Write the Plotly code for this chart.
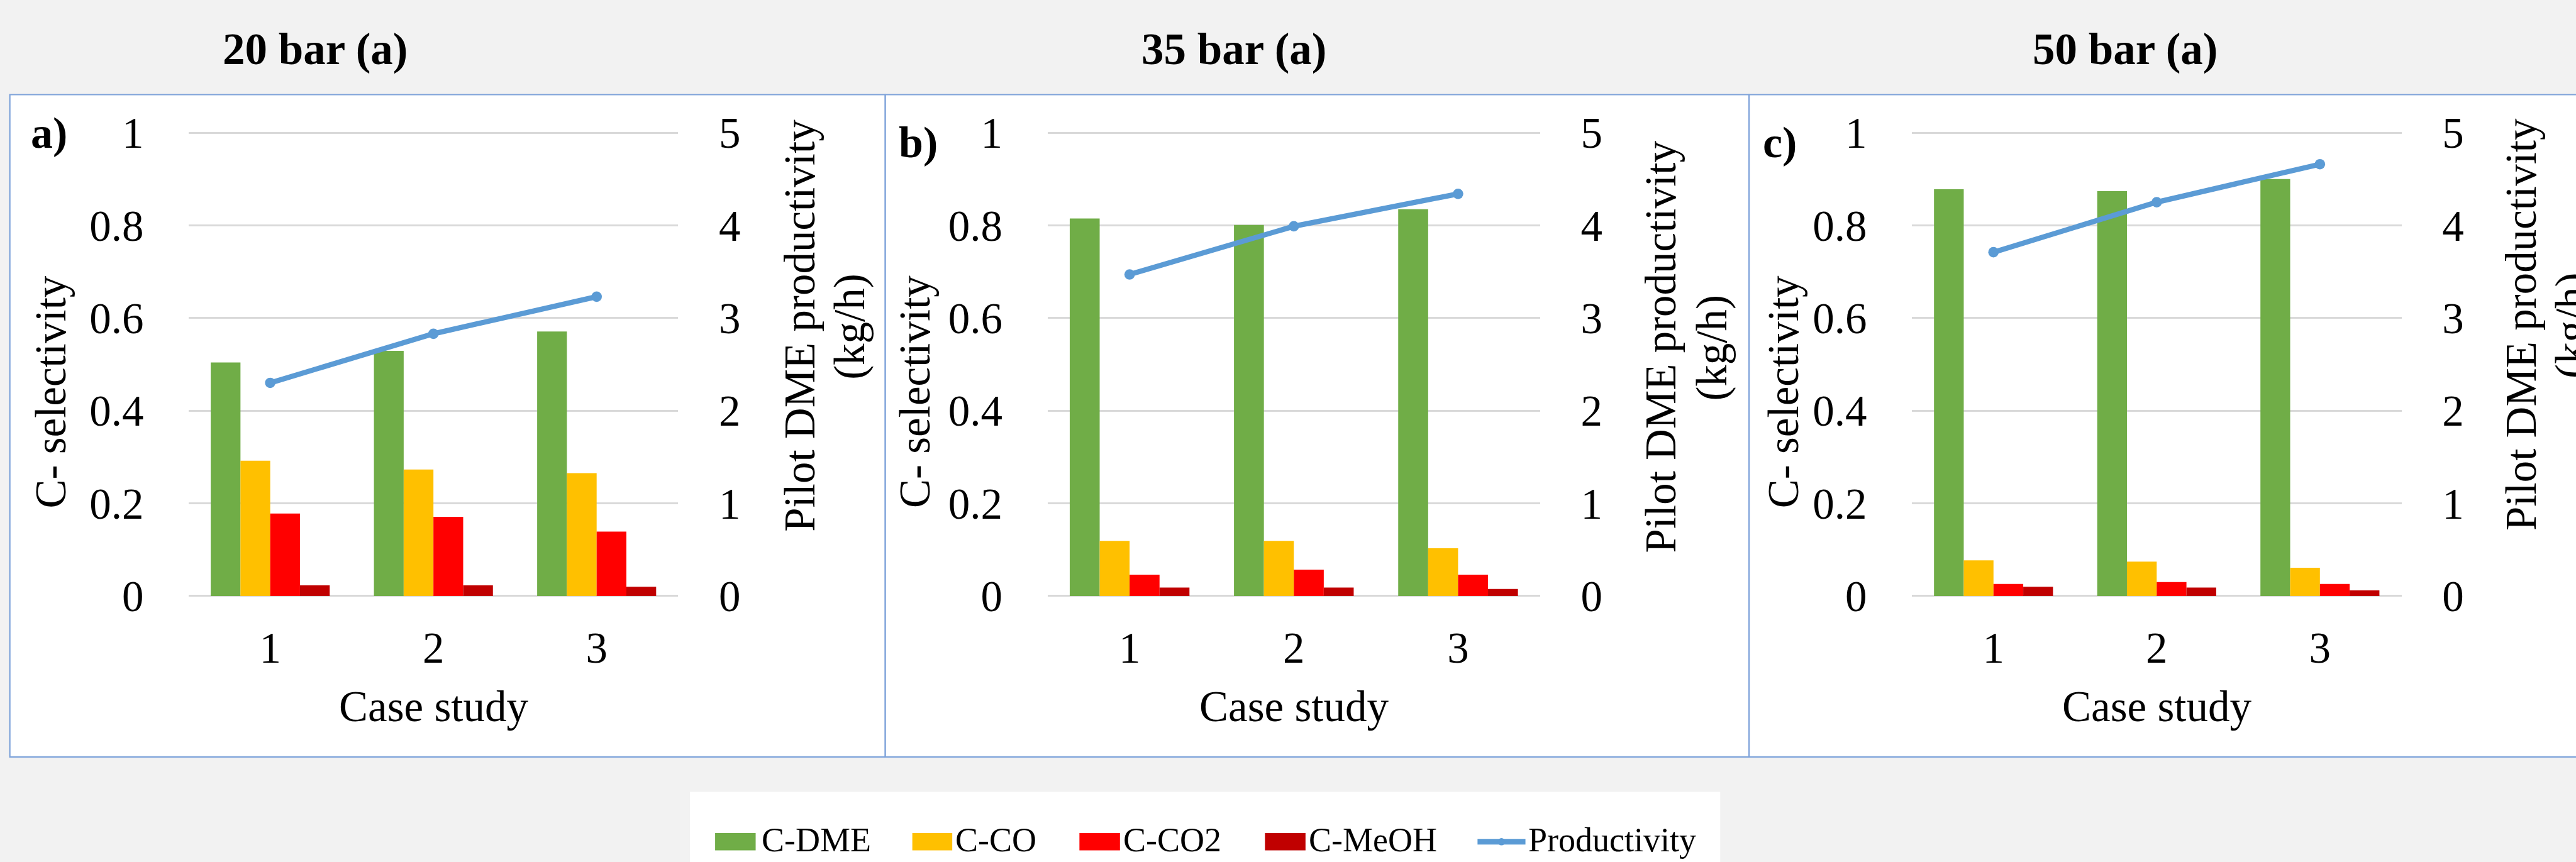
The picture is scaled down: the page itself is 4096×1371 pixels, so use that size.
import plotly.graph_objects as go

# ---------------- data ----------------
case_study = [1, 2, 3]
case_labels = ["1", "2", "3"]
pressure_titles = ["20 bar (a)", "35 bar (a)", "50 bar (a)"]
panel_labels = ["a)", "b)", "c)"]
series_names = ["C-DME", "C-CO", "C-CO2", "C-MeOH"]
line_name = "Productivity"
sel_ticks = [0, 0.2, 0.4, 0.6, 0.8, 1]
sel_ticklabels = ["0", "0.2", "0.4", "0.6", "0.8", "1"]
prod_ticks = [0, 1, 2, 3, 4, 5]
prod_ticklabels = ["0", "1", "2", "3", "4", "5"]
left_title = "C- selectivity"
right_title_l1 = "Pilot DME productivity"
right_title_l2 = "(kg/h)"
x_title = "Case study"

c_dme_20 = [0.504, 0.529, 0.571]
c_co_20 = [0.292, 0.273, 0.265]
c_co2_20 = [0.178, 0.171, 0.139]
c_meoh_20 = [0.023, 0.023, 0.020]
prod_20 = [2.30, 2.83, 3.23]

c_dme_35 = [0.815, 0.801, 0.835]
c_co_35 = [0.119, 0.119, 0.103]
c_co2_35 = [0.046, 0.057, 0.046]
c_meoh_35 = [0.018, 0.018, 0.015]
prod_35 = [3.47, 3.99, 4.34]

c_dme_50 = [0.878, 0.874, 0.900]
c_co_50 = [0.077, 0.074, 0.061]
c_co2_50 = [0.026, 0.030, 0.026]
c_meoh_50 = [0.020, 0.018, 0.012]
prod_50 = [3.71, 4.25, 4.66]

# ---------------- styles ----------------
W, H = 4096, 1371
RW, RH = 4193, 1403          # reference size; layout measured in reference px
S = W / RW

bar_colors = ["#70AD47", "#FFC000", "#FF0000", "#C00000"]
line_color = "#5B9BD5"
border_color = "#7EA3DA"
grid_color = "#D9D9D9"
bg_color = "#F2F2F2"
FONT = "Liberation Serif"

def px(x):
    return x / RW

def py(y):
    return 1 - y / RH

panels = [
    (c_dme_20, c_co_20, c_co2_20, c_meoh_20, prod_20),
    (c_dme_35, c_co_35, c_co2_35, c_meoh_35, prod_35),
    (c_dme_50, c_co_50, c_co2_50, c_meoh_50, prod_50),
]

plot_x = [(307, 1104), (1705, 2507), (3112, 3909)]
y_zero, y_one = 970, 216
EPS = 0.005
unit = y_zero - y_one
dom_bottom = y_zero + EPS * unit
dom_top = y_one - EPS * unit

fig = go.Figure()

TICK_FS = 69
TITLE_FS = 69

layout = dict(
    width=W, height=H, autosize=False,
    margin=dict(l=0, r=0, t=0, b=0, pad=0, autoexpand=False),
    paper_bgcolor=bg_color, plot_bgcolor="rgba(0,0,0,0)",
    barmode="group", bargap=0.271, bargroupgap=0,
    showlegend=False,
    font=dict(family=FONT, color="#000000"),
)

shapes = []
annotations = []

# panel boxes
box_x = [(16, 1441), (1441, 2847), (2847, 4230)]
for (b0, b1) in box_x:
    shapes.append(dict(type="rect", xref="paper", yref="paper", layer="below",
                       x0=px(b0), x1=px(b1), y0=py(1232), y1=py(154),
                       fillcolor="#FFFFFF", line=dict(color=border_color, width=2.2)))

title_x = [513, 2009, 3460]
letter_pos = [(80, 216), (1495, 232), (2897, 232)]
left_title_x = [83, 1490, 2904]
right_title_pos = [((1302, 530), (1383, 532)),
                   ((2704, 564), (2787, 566)),
                   ((4104, 528), (4185, 530))]

for i, (dme, co, co2, meoh, prod) in enumerate(panels):
    xa = "x" if i == 0 else f"x{i+1}"
    yl = "y" if i == 0 else f"y{2*i+1}"
    yr = f"y{2*i+2}"
    for name, vals, col in zip(series_names, [dme, co, co2, meoh], bar_colors):
        fig.add_trace(go.Bar(x=case_study, y=vals, name=name, xaxis=xa, yaxis=yl,
                             marker=dict(color=col, line=dict(width=0)),
                             showlegend=False))
    fig.add_trace(go.Scatter(x=case_study, y=prod, name=line_name, xaxis=xa, yaxis=yr,
                             mode="lines+markers",
                             line=dict(color=line_color, width=8.5 * S),
                             marker=dict(size=17 * S, color=line_color),
                             showlegend=False))

    x0, x1 = plot_x[i]
    xkey = "xaxis" if i == 0 else f"xaxis{i+1}"
    ylkey = "yaxis" if i == 0 else f"yaxis{2*i+1}"
    yrkey = f"yaxis{2*i+2}"
    layout[xkey] = dict(domain=[px(x0), px(x1)], range=[0.5, 3.5],
                        anchor=yl, tickmode="array", tickvals=case_study, ticktext=case_labels,
                        showgrid=False, zeroline=False, showline=False,
                        ticks="outside", ticklen=19 * S, tickcolor="rgba(0,0,0,0)",
                        tickfont=dict(family=FONT, size=TICK_FS, color="#000000"),
                        automargin=False, fixedrange=True)
    layout[ylkey] = dict(domain=[py(dom_bottom), py(dom_top)], range=[-EPS, 1 + EPS],
                         anchor=xa, side="left", tickmode="array",
                         tickvals=sel_ticks, ticktext=sel_ticklabels,
                         showgrid=True, gridcolor=grid_color, gridwidth=3 * S,
                         zeroline=False, showline=False,
                         ticks="outside", ticklen=58 * S, tickcolor="rgba(0,0,0,0)",
                         tickfont=dict(family=FONT, size=TICK_FS, color="#000000"),
                         automargin=False, fixedrange=True)
    layout[yrkey] = dict(domain=[py(dom_bottom), py(dom_top)], range=[-5 * EPS, 5 + 5 * EPS],
                         anchor=xa, overlaying=yl, side="right", tickmode="array",
                         tickvals=prod_ticks, ticktext=prod_ticklabels,
                         showgrid=False, zeroline=False, showline=False,
                         ticks="outside", ticklen=51 * S, tickcolor="rgba(0,0,0,0)",
                         tickfont=dict(family=FONT, size=TICK_FS, color="#000000"),
                         automargin=False, fixedrange=True)

    # panel title
    annotations.append(dict(text=f"<b>{pressure_titles[i]}</b>", xref="paper", yref="paper",
                            x=px(title_x[i]), y=py(80), xanchor="center", yanchor="middle",
                            showarrow=False, font=dict(family=FONT, size=71, color="#000000")))
    # panel letter
    lx, ly = letter_pos[i]
    annotations.append(dict(text=f"<b>{panel_labels[i]}</b>", xref="paper", yref="paper",
                            x=px(lx), y=py(ly), xanchor="center", yanchor="middle",
                            showarrow=False, font=dict(family=FONT, size=70, color="#000000")))
    # left axis title
    annotations.append(dict(text=left_title, xref="paper", yref="paper", textangle=-90,
                            x=px(left_title_x[i]), y=py(638), xanchor="center", yanchor="middle",
                            showarrow=False, font=dict(family=FONT, size=TITLE_FS, color="#000000")))
    # right axis title (two lines)
    (r1x, r1y), (r2x, r2y) = right_title_pos[i]
    annotations.append(dict(text=right_title_l1, xref="paper", yref="paper", textangle=-90,
                            x=px(r1x), y=py(r1y), xanchor="center", yanchor="middle",
                            showarrow=False, font=dict(family=FONT, size=TITLE_FS, color="#000000")))
    annotations.append(dict(text=right_title_l2, xref="paper", yref="paper", textangle=-90,
                            x=px(r2x), y=py(r2y), xanchor="center", yanchor="middle",
                            showarrow=False, font=dict(family=FONT, size=TITLE_FS, color="#000000")))
    # x axis title
    annotations.append(dict(text=x_title, xref="paper", yref="paper",
                            x=px((x0 + x1) / 2), y=py(1150), xanchor="center", yanchor="middle",
                            showarrow=False, font=dict(family=FONT, size=TITLE_FS, color="#000000")))

# ---------------- legend (drawn box) ----------------
shapes.append(dict(type="rect", xref="paper", yref="paper", layer="below",
                   x0=px(1123), x1=px(2800), y0=py(1440), y1=py(1289),
                   fillcolor="#FFFFFF", line=dict(width=0)))
swatch_x = [(1164, 1230), (1485, 1550), (1757, 1823), (2059, 2125)]
text_x = [1238, 1553, 1826, 2128]
LEG_Y = 1370
for (s0, s1), tx, name, col in zip(swatch_x, text_x, series_names, bar_colors):
    shapes.append(dict(type="rect", xref="paper", yref="paper",
                       x0=px(s0), x1=px(s1), y0=py(1384), y1=py(1356),
                       fillcolor=col, line=dict(width=0)))
    annotations.append(dict(text=name, xref="paper", yref="paper", x=px(tx), y=py(LEG_Y - 3),
                            xanchor="left", yanchor="middle", showarrow=False,
                            font=dict(family=FONT, size=54, color="#000000")))
shapes.append(dict(type="line", xref="paper", yref="paper",
                   x0=px(2405), x1=px(2483), y0=py(LEG_Y), y1=py(LEG_Y),
                   line=dict(color=line_color, width=9 * S)))
shapes.append(dict(type="circle", xref="paper", yref="paper",
                   x0=px(2438), x1=px(2450), y0=py(LEG_Y + 6), y1=py(LEG_Y - 6),
                   fillcolor=line_color, line=dict(width=0)))
annotations.append(dict(text=line_name, xref="paper", yref="paper", x=px(2486), y=py(LEG_Y - 3),
                        xanchor="left", yanchor="middle", showarrow=False,
                        font=dict(family=FONT, size=54, color="#000000")))

layout["shapes"] = shapes
layout["annotations"] = annotations
fig.update_layout(**layout)

fig.write_html("out.html", config={"displayModeBar": False},
               post_script="document.body.style.margin='0';")
